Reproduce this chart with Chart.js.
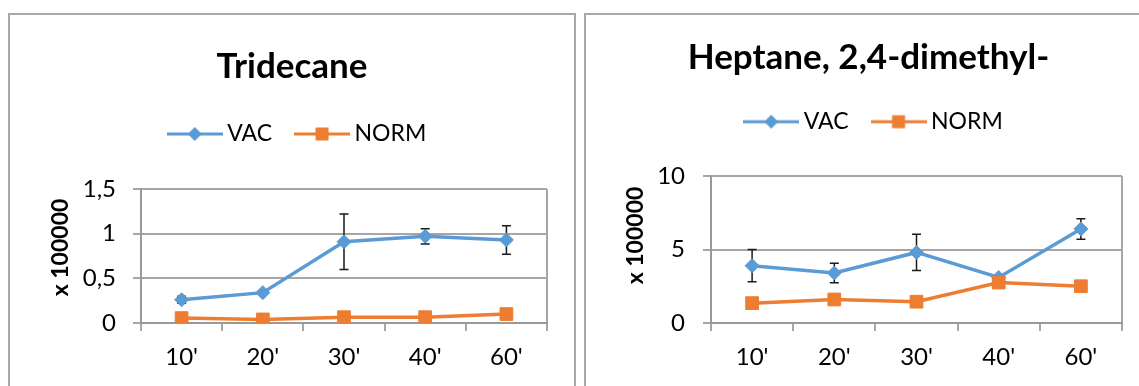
<!DOCTYPE html>
<html>
<head>
<meta charset="utf-8">
<script src="https://cdn.jsdelivr.net/npm/chart.js@4.4.1/dist/chart.umd.min.js"></script>
<style>
  html, body { margin: 0; padding: 0; background: #fff; overflow: hidden; width: 1139px; height: 386px; }
  .panel { position: absolute; top: 13px; height: 400px; border: 2px solid #a9a9a9; background: #fff; }
  #p1 { left: 8px; width: 564px; }
  #p2 { left: 584px; width: 565px; }
  canvas { position: absolute; left: 0; top: 0; }
</style>
</head>
<body>
<div class="panel" id="p1"><canvas id="c1" width="564" height="371"></canvas></div>
<div class="panel" id="p2"><canvas id="c2" width="565" height="371"></canvas></div>
<script>
// Sampling times and series names shared by both charts
const timeLabels = ["10'", "20'", "30'", "40'", "60'"];
const seriesNames = ['VAC', 'NORM'];

// Tridecane (x 100000)
const tridecaneVac = [0.26, 0.34, 0.91, 0.97, 0.93];
const tridecaneVacErr = [0.04, 0.02, 0.31, 0.085, 0.16];
const tridecaneNorm = [0.055, 0.04, 0.065, 0.065, 0.10];
const tridecaneTicks = ['0', '0,5', '1', '1,5'];

// Heptane, 2,4-dimethyl- (x 100000)
const heptaneVac = [3.9, 3.4, 4.8, 3.1, 6.4];
const heptaneVacErr = [1.1, 0.67, 1.23, 0.1, 0.7];
const heptaneNorm = [1.35, 1.6, 1.45, 2.75, 2.5];
const heptaneTicks = ['0', '5', '10'];

const BLUE = '#5B9BD5';
const ORANGE = '#ED7D31';
const GRID = '#a6a6a6';
const AXIS = '#999999';

Chart.defaults.font.family = 'Lato, "Open Sans", sans-serif';
Chart.defaults.color = '#000';

// Legend swatch: a short line with the series marker in its middle
function legendSwatch(color, shape) {
  const c = document.createElement('canvas');
  c.width = 56; c.height = 16;
  const g = c.getContext('2d');
  g.strokeStyle = color; g.lineWidth = 3;
  g.beginPath(); g.moveTo(0, 8); g.lineTo(56, 8); g.stroke();
  g.fillStyle = color;
  g.beginPath();
  if (shape === 'diamond') {
    g.moveTo(21, 8); g.lineTo(28, 1); g.lineTo(35, 8); g.lineTo(28, 15);
  } else {
    g.rect(21.5, 1.5, 13, 13);
  }
  g.closePath(); g.fill();
  return c;
}
const swatches = [legendSwatch(BLUE, 'diamond'), legendSwatch(ORANGE, 'square')];

// Vertical error bars with caps, drawn beneath the series
const errorBarPlugin = {
  id: 'errorBars',
  beforeDatasetsDraw(chart) {
    const { ctx, scales: { x, y } } = chart;
    chart.data.datasets.forEach(ds => {
      if (!ds.errorBars) return;
      ctx.save();
      ctx.strokeStyle = '#1a1a1a';
      ctx.lineWidth = 1.5;
      ds.data.forEach((v, i) => {
        const e = ds.errorBars[i];
        const px = x.getPixelForValue(i);
        const top = y.getPixelForValue(v + e);
        const bot = y.getPixelForValue(v - e);
        ctx.beginPath();
        ctx.moveTo(px, top); ctx.lineTo(px, bot);
        ctx.moveTo(px - 4.5, top); ctx.lineTo(px + 4.5, top);
        ctx.moveTo(px - 4.5, bot); ctx.lineTo(px + 4.5, bot);
        ctx.stroke();
      });
      ctx.restore();
    });
  }
};

// Rotated value-axis caption
const axisCaptionPlugin = {
  id: 'axisCaption',
  afterDraw(chart, args, opts) {
    const { ctx, chartArea } = chart;
    ctx.save();
    ctx.font = 'bold 23px ' + Chart.defaults.font.family;
    ctx.fillStyle = '#000';
    ctx.textAlign = 'center';
    ctx.textBaseline = 'middle';
    ctx.translate(chartArea.left - opts.dx, (chartArea.top + chartArea.bottom) / 2 - opts.dy);
    ctx.rotate(-Math.PI / 2);
    ctx.fillText(opts.text, 0, 0);
    ctx.restore();
  }
};

// Extra room below the legend, and a small horizontal nudge of its row
const legendPlacementPlugin = {
  id: 'legendPlacement',
  afterInit(chart, args, opts) {
    const lg = chart.legend;
    const fit = lg.fit;
    const draw = lg.draw;
    lg.fit = function () { fit.call(this); this.height += opts.gap; };
    lg.draw = function () {
      this.ctx.save();
      this.ctx.translate(opts.shift, 0);
      draw.call(this);
      this.ctx.restore();
    };
  }
};

function makeChart(id, cfg) {
  return new Chart(document.getElementById(id), {
    type: 'line',
    data: {
      labels: timeLabels,
      datasets: [
        { label: seriesNames[0], data: cfg.vac, errorBars: cfg.vacErr,
          borderColor: BLUE, backgroundColor: BLUE, borderWidth: 3.5, tension: 0,
          pointStyle: 'rectRot', pointRadius: 7, pointBorderWidth: 1, order: 2 },
        { label: seriesNames[1], data: cfg.norm,
          borderColor: ORANGE, backgroundColor: ORANGE, borderWidth: 3.5, tension: 0,
          pointStyle: 'rect', pointRadius: 9, pointBorderWidth: 1, order: 1 }
      ]
    },
    options: {
      responsive: false,
      animation: false,
      events: [],
      layout: { padding: { left: cfg.side, right: cfg.side, top: 0, bottom: 0 } },
      plugins: {
        tooltip: { enabled: false },
        title: {
          display: true, text: cfg.title, color: '#000',
          font: { size: 35, weight: 'bold' },
          padding: cfg.titlePad
        },
        legend: {
          display: true, position: 'top',
          labels: {
            usePointStyle: true, pointStyleWidth: 42, padding: 29,
            font: { size: 23 }, color: '#000',
            generateLabels(chart) {
              return Chart.defaults.plugins.legend.labels.generateLabels(chart)
                .sort((a, b) => a.datasetIndex - b.datasetIndex)
                .map(item => Object.assign(item, { pointStyle: swatches[item.datasetIndex] }));
            }
          }
        },
        legendPlacement: { gap: cfg.gap, shift: 8 },
        axisCaption: { text: 'x 100000', dx: cfg.capDx, dy: cfg.capDy }
      },
      scales: {
        x: {
          offset: true,
          grid: {
            offset: true, drawOnChartArea: true, lineWidth: 2, tickLength: 8,
            color: c => (c.type === 'scale' ? GRID : 'rgba(0,0,0,0)'),
            tickColor: GRID
          },
          border: { color: AXIS, width: 2 },
          ticks: { padding: 11.6, font: { size: 24 }, color: '#000', maxRotation: 0, autoSkip: false },
          afterFit(s) { s.height = 63; }
        },
        y: {
          min: 0, max: cfg.max,
          grid: { color: GRID, lineWidth: 2, tickLength: 8, tickColor: GRID },
          border: { color: AXIS, width: 2 },
          ticks: {
            stepSize: cfg.step, padding: cfg.tickPad, font: { size: 24 }, color: '#000',
            callback: (v, i) => cfg.ticks[i]
          },
          afterFit(s) { s.width = cfg.yWidth; }
        }
      }
    },
    plugins: [errorBarPlugin, axisCaptionPlugin, legendPlacementPlugin]
  });
}

const charts = [
  makeChart('c1', {
    title: 'Tridecane', vac: tridecaneVac, vacErr: tridecaneVacErr, norm: tridecaneNorm,
    ticks: tridecaneTicks, max: 1.5, step: 0.5,
    side: 27, yWidth: 104, tickPad: 17,
    titlePad: { top: 31, bottom: 5.5 }, gap: 33.5, capDx: 80.3, capDy: 8.5
  }),
  makeChart('c2', {
    title: 'Heptane, 2,4-dimethyl-', vac: heptaneVac, vacErr: heptaneVacErr, norm: heptaneNorm,
    ticks: heptaneTicks, max: 10, step: 5,
    side: 29, yWidth: 96, tickPad: 18,
    titlePad: { top: 22, bottom: 2.2 }, gap: 32.8, capDx: 75, capDy: 14
  })
];

if (document.fonts && document.fonts.ready) {
  document.fonts.ready.then(() => charts.forEach(c => c.update()));
}
</script>
</body>
</html>
